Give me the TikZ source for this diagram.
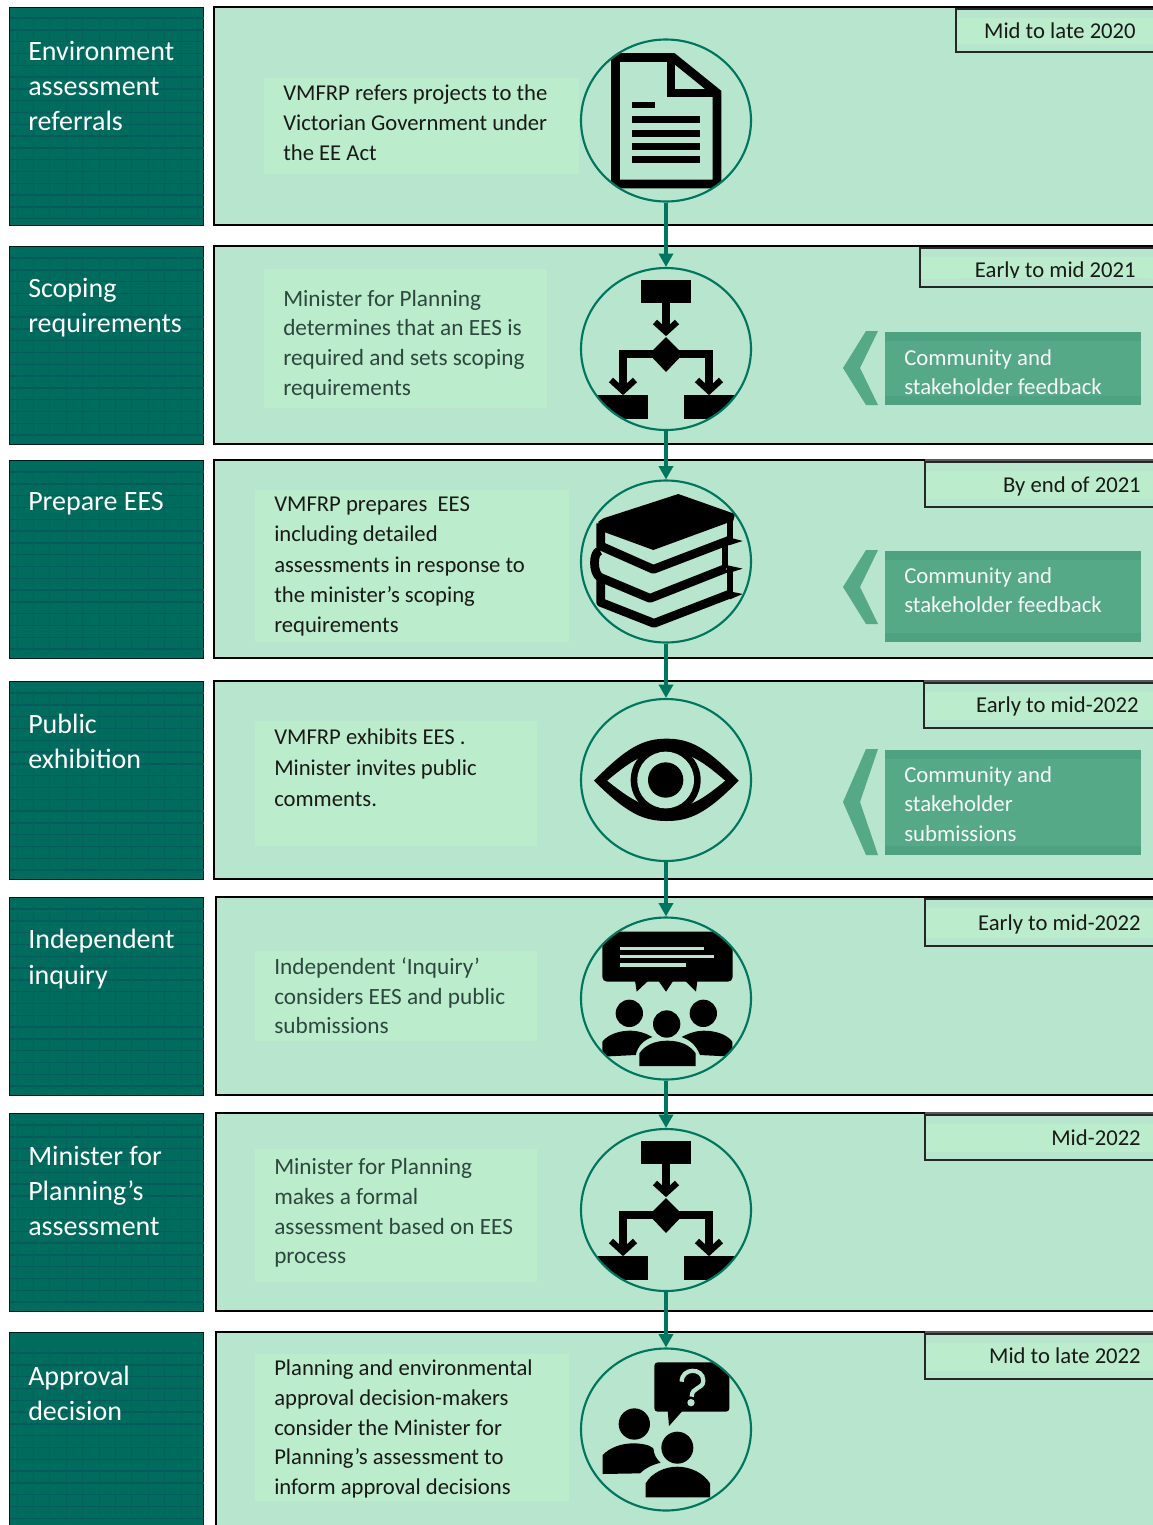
\documentclass[tikz,border=0pt]{standalone}
\usepackage{fontspec}
\setmainfont{Carlito}
\usetikzlibrary{shapes.geometric,arrows.meta}
\definecolor{rowfill}{HTML}{B8E5CD}
\definecolor{lightfill}{HTML}{BBEDCC}
\definecolor{stagefill}{HTML}{006C5D}
\definecolor{stageline}{HTML}{075A5C}
\definecolor{teal}{HTML}{00755F}
\definecolor{feedfill}{HTML}{55A986}
\definecolor{feededge}{HTML}{4FA281}
\definecolor{greytext}{HTML}{2E4640}
\tikzset{
  x=0.75pt,y=-0.75pt,
  rowbox/.style={fill=rowfill},
  rowline/.style={draw=black,line width=1.9pt},
  taglight/.style={fill=lightfill},
  tagline/.style={draw=black!85,line width=0.85pt},
  textlight/.style={fill=lightfill},
  stagebox/.style={fill=stagefill,draw=black!75!stagefill,line width=0.6pt},
  stagetext/.style={anchor=west,inner sep=0pt,align=left,text=white,font=\fontsize{21}{26.4}\selectfont},
  bodytext/.style={anchor=west,inner sep=0pt,align=left,text=black!90,font=\fontsize{17}{22.2}\selectfont},
  greybody/.style={bodytext,text=greytext,font=\fontsize{17.45}{22.2}\selectfont},
  tagtext/.style={anchor=east,inner sep=0pt,text=black!90,font=\fontsize{17}{20}\selectfont},
  feedtext/.style={anchor=west,inner sep=0pt,align=left,text=white!94!feedfill,font=\fontsize{17.1}{22.1}\selectfont},
  feedbox/.style={fill=feedfill},
  circ/.style={ellipse,draw=teal,line width=1.6pt,minimum width=127.5pt,minimum height=121.5pt,inner sep=0pt},
  flow/.style={draw=teal,line width=2.5pt,-{Triangle[length=10pt,width=10.5pt]}},
  ink/.style={fill=black},
  inkline/.style={draw=black,line width=5.4pt,line join=miter},
  bookline/.style={draw=black,line width=6.6pt,line join=round},
  paper/.style={fill=rowfill},
  zoomed/.style={x=0.25pt,y=-0.25pt},
}
% stage box with its ruled texture; #3 is the offset of the first rule
\newcommand{\StageBox}[3]{%
  \fill[stagebox] (9,#1) rectangle (203,#2);
  \begin{scope}
    \clip (10,#1) rectangle (204,#2);
    \pgfmathsetmacro{\ya}{#1+#3}\pgfmathsetmacro{\yb}{#1+#3+11.8}\pgfmathsetmacro{\yc}{#2+1}
    \foreach \yy in {\ya,\yb,...,\yc}
      \draw[stageline,line width=1.05pt] (10,\yy) -- (204,\yy);
    \pgfmathsetmacro{\yt}{#1+#3-4}\pgfmathsetmacro{\yz}{#2-6}
    \foreach \xx in {17,33.4,...,203}
      \draw[stageline!55!stagefill,line width=0.75pt] (\xx,\yt) -- (\xx,\yz);
  \end{scope}}
% row panel, open at the right; #1 left, #2 top, #3 bottom
\newcommand{\RowPanel}[3]{%
  \fill[rowbox] (#1,#2) rectangle (1153,#3);
  \draw[rowline] (1153,#2) -- (#1,#2) -- (#1,#3) -- (1153,#3);}
% date tag; #1 left, #2 top, #3 bottom
\newcommand{\DateTag}[3]{%
  \pgfmathsetmacro{\ta}{#2+9}\pgfmathsetmacro{\tb}{#3-8.5}
  \fill[taglight] (#1,\ta) rectangle (1153,\tb);
  \draw[tagline] (1153,#2) -- (#1,#2) -- (#1,#3) -- (1153,#3);}
% thin top edge above a tag; #1 left, #2 row top, #3 tag top
\newcommand{\ThinTop}[3]{%
  \fill[white] (#1,#2-3) rectangle (1153,#2-0.5);
  \fill[rowbox] (#1+0.5,#2-0.5) rectangle (1153,#3-0.5);
  \draw[draw=black!65,line width=0.9pt] (#1,#2) -- (1153,#2);}
% feedback banner; #1 box top, #2 box bottom, #3 chevron top, #4 chevron bottom
\newcommand{\Feedback}[4]{%
  \fill[fill=feededge] (885,#1) rectangle (1141,#2);
  \fill[feedbox] (885,#1+9) rectangle (1141,#2-9);
  \pgfmathsetmacro{\cm}{(#3+#4)/2}
  \fill[feedbox] (866,#3) -- (878,#3) -- (860,\cm) -- (878,#4) -- (866,#4) -- (843,\cm) -- cycle;}
% flowchart glyph about a centre
\newcommand{\FlowIcon}[2]{%
  \begin{scope}[shift={(#1,#2)}]
    \clip (0,0) ellipse [x radius=85,y radius=81];
    \fill[ink] (-25,-69) rectangle (25,-46);
    \draw[inkline] (0,-46) -- (0,-19);
    \draw[inkline,line width=4.6pt] (-11,-27) -- (0,-17) -- (11,-27);
    \fill[ink] (0,-12) -- (17,5) -- (0,23) -- (-17,5) -- cycle;
    \draw[inkline] (0,5) -- (-43,5) -- (-43,40);
    \draw[inkline] (0,5) -- (43,5) -- (43,40);
    \draw[inkline,line width=4.6pt] (-55,31) -- (-43,42) -- (-31,31);
    \draw[inkline,line width=4.6pt] (31,31) -- (43,42) -- (55,31);
    \fill[ink] (-70,46) rectangle (-18,70);
    \fill[ink] (18,46) rectangle (70,70);
  \end{scope}}
\begin{document}
\begin{tikzpicture}
\useasboundingbox (0,0) rectangle (1153,1525);
\fill[white] (0,0) rectangle (1153,1525);

% ---------- left stage boxes
\StageBox{7}{225}{11}
\StageBox{246}{444}{12}
\StageBox{460}{658}{12}
\StageBox{681}{879}{12}
\StageBox{897}{1095}{12}
\StageBox{1113}{1311}{12}
\StageBox{1332}{1525}{21}

% ---------- row panels
\RowPanel{214}{7}{225}
\RowPanel{214}{246}{444}
\RowPanel{214}{460}{658}
\RowPanel{214}{681}{879}
\RowPanel{216}{897}{1095}
\RowPanel{216}{1113}{1311}
\fill[rowbox] (216,1332) rectangle (1153,1525);
\draw[rowline] (1153,1332) -- (216,1332) -- (216,1525);

% ---------- stage titles
\node[stagetext] (s1) at (28,86) {Environment\\assessment\\referrals};
\node[stagetext] (s2) at (28,308) {Scoping\\requirements};
\node[stagetext] (s3) at (28,504) {Prepare EES};
\node[stagetext] (s4) at (28,741) {Public\\exhibition};
\node[stagetext] (s5) at (28,959) {Independent\\inquiry};
\node[stagetext] (s6) at (28,1191) {Minister for\\Planning’s\\assessment};
\node[stagetext] (s7) at (28,1393) {Approval\\decision};

% ---------- date tags
\ThinTop{925}{460}{463}
\ThinTop{924}{681}{684}
\ThinTop{925}{1113}{1116}
\ThinTop{925}{1332}{1335}
\DateTag{956}{9}{52}
\DateTag{920}{248}{287}
\DateTag{925}{462}{507}
\DateTag{924}{683}{728}
\DateTag{925}{899}{946}
\DateTag{925}{1115}{1160}
\DateTag{925}{1334}{1379}
\node[tagtext] (d1) at (1136,31) {Mid to late 2020};
\node[tagtext] (d2) at (1136,271) {Early to mid 2021};
\fill[rowbox] (960,278) rectangle (1150,286);
\node[tagtext] (d3) at (1141,486) {By end of 2021};
\node[tagtext] (d4) at (1139,706) {Early to mid-2022};
\node[tagtext] (d5) at (1141,924) {Early to mid-2022};
\node[tagtext] (d6) at (1141,1138) {Mid-2022};
\node[tagtext] (d7) at (1141,1356) {Mid to late 2022};

% ---------- description panels
\fill[textlight] (264,78) rectangle (579,174);
\fill[textlight] (264,269) rectangle (547,408);
\fill[textlight] (255,490) rectangle (569,642);
\fill[textlight] (255,721) rectangle (537,846);
\fill[textlight] (255,951) rectangle (537,1041);
\fill[textlight] (255,1149) rectangle (537,1282);
\fill[textlight] (255,1354) rectangle (569,1501);
\node[bodytext,font=\fontsize{17}{22.5}\selectfont] (t1) at (283,123) {VMFRP refers projects to the\\Victorian Government under\\the EE Act};
\node[greybody] (t2) at (283,344.5) {Minister for Planning\\determines that an EES is\\required and sets scoping\\requirements};
\node[bodytext,font=\fontsize{17}{22.7}\selectfont] (t3) at (274,566.5) {VMFRP prepares\ \ EES\\including detailed\\assessments in response to\\the minister’s scoping\\requirements};
\node[bodytext,font=\fontsize{17}{23.2}\selectfont] (t4) at (274,768) {VMFRP exhibits EES .\\Minister invites public\\comments.};
\node[greybody] (t5) at (274,996) {Independent ‘Inquiry’\\considers EES and public\\submissions};
\node[greybody] (t6) at (274,1213) {Minister for Planning\\makes a formal\\assessment based on EES\\process};
\node[bodytext] (t7) at (274,1429) {Planning and environmental\\approval decision-makers\\consider the Minister for\\Planning’s assessment to\\inform approval decisions};

% ---------- feedback banners
\Feedback{332}{405}{331}{405}
\Feedback{551}{642}{550}{624}
\Feedback{750}{855}{749}{855}
\node[feedtext] (f2) at (904,372) {Community and\\stakeholder feedback};
\node[feedtext] (f3) at (904,590) {Community and\\stakeholder feedback};
\node[feedtext] (f4) at (904,804) {Community and\\stakeholder\\submissions};

% ---------- icon 1: document
\begin{scope}
  \clip (666,120.5) ellipse [x radius=85,y radius=81];
  \draw[inkline,line width=6.6pt] (615.5,57.5) -- (673,57.5) -- (717,93) -- (717,184) -- (615.5,184) -- cycle;
  \draw[inkline,line width=6.6pt] (671,58) -- (671,93) -- (717,93);
  \fill[ink] (632,102) rectangle (655,108);
  \foreach \yy in {116,129.5,143,156}
    \fill[ink] (632,\yy) rectangle (700,\yy+7);
\end{scope}

% ---------- icon 2 and 6: flowchart
\FlowIcon{666}{349}
\FlowIcon{666}{1210}

% ---------- icon 3: books (coordinates of a 3x crop)
\begin{scope}[shift={(570,470)},zoomed]
  \clip (288,275) ellipse [x radius=255,y radius=243];
  \fill[ink] (325,72) -- (495,132) -- (490,152) -- (250,240) -- (105,187) -- (85,178) -- (85,155) -- (100,145) -- cycle;
  \draw[bookline] (92,160) -- (92,228) -- (250,298) -- (480,210);
  \fill[ink] (470,200) -- (518,213) -- (480,225) -- cycle;
  \draw[bookline,line width=5pt] (480,140) -- (480,215);
  \draw[bookline] (90,242) .. controls (68,245) and (68,310) .. (90,322) -- (240,385) -- (468,295);
  \fill[ink] (460,283) -- (518,296) -- (480,308) -- cycle;
  \draw[bookline,line width=5pt] (465,215) -- (465,295);
  \draw[bookline] (92,325) -- (92,397) -- (252,460) -- (480,372);
  \fill[ink] (470,362) -- (518,372) -- (480,388) -- cycle;
  \draw[bookline,line width=5pt] (480,298) -- (480,375);
\end{scope}

% ---------- icon 4: eye
\begin{scope}[shift={(570,470)},zoomed]
  \fill[ink] (72,932) .. controls (170,832) and (220,806) .. (290,806) .. controls (360,806) and (410,832) .. (506,932) .. controls (410,1030) and (360,1053) .. (290,1053) .. controls (220,1053) and (170,1030) .. cycle;
  \fill[paper] (112,932) .. controls (190,867) and (230,845) .. (290,845) .. controls (350,845) and (390,867) .. (465,932) .. controls (390,995) and (350,1015) .. (290,1015) .. controls (230,1015) and (190,995) .. cycle;
  \fill[ink] (287,930) circle [radius=105];
  \fill[paper] (287,930) circle [radius=85];
  \fill[ink] (287,930) circle [radius=53];
\end{scope}

% ---------- icon 5: audience and speech bubble
\begin{scope}[shift={(570,910)},zoomed]
  \clip (288,265.5) ellipse [x radius=255,y radius=243];
  \fill[ink,rounded corners=3.5pt] (97,65) rectangle (488,215);
  \fill[ink] (195,212) -- (200,245) -- (235,212) -- cycle;
  \fill[ink] (265,212) -- (288,245) -- (310,212) -- cycle;
  \fill[ink] (345,212) -- (378,245) -- (382,212) -- cycle;
  \fill[rowfill] (150,110) rectangle (402,120);
  \fill[rowfill] (150,135) rectangle (432,145);
  \fill[rowfill] (150,160) rectangle (347,170);
  \fill[ink] (178,310) circle [radius=41];
  \fill[ink] (400,310) circle [radius=41];
  \fill[ink] (290,342) circle [radius=41];
  \fill[ink] (97,440) -- (97,395) .. controls (115,372) and (150,362) .. (180,362) .. controls (205,362) and (228,370) .. (247,381) .. controls (222,390) and (205,405) .. (197,435) -- cycle;
  \fill[ink] (487,440) -- (487,395) .. controls (470,372) and (435,362) .. (400,362) .. controls (380,362) and (355,370) .. (335,381) .. controls (360,390) and (378,405) .. (390,435) -- cycle;
  \fill[ink] (208,468) -- (208,430) .. controls (225,405) and (255,392) .. (292,392) .. controls (330,392) and (360,405) .. (377,430) -- (377,468) -- cycle;
\end{scope}

% ---------- icon 7: people and question
\begin{scope}[shift={(570,1340)},zoomed]
  \clip (288,268.5) ellipse [x radius=255,y radius=243];
  \fill[ink,rounded corners=2.5pt] (253,67) rectangle (478,215);
  \fill[ink] (293,212) -- (297,258) -- (338,212) -- cycle;
  \draw[rowfill,line width=3.2pt] (335,125) .. controls (335,82) and (400,82) .. (400,122) .. controls (400,148) and (365,140) .. (365,170);
  \fill[rowfill] (363,188) circle [radius=11];
  \fill[ink] (193,252) circle [radius=47];
  \fill[ink] (98,402) -- (98,345) .. controls (120,322) and (155,310) .. (190,310) .. controls (215,310) and (240,315) .. (250,325) .. controls (252,345) and (260,358) .. (272,368) .. controls (245,375) and (225,385) .. (210,400) -- cycle;
  \fill[ink] (322,323) circle [radius=48];
  \fill[ink] (227,472) -- (227,430) .. controls (245,398) and (285,380) .. (322,380) .. controls (360,380) and (400,398) .. (420,430) -- (420,472) -- cycle;
\end{scope}

% ---------- circles and connectors
\node[circ] (c1) at (666,120.5) {};
\node[circ] (c2) at (666,349) {};
\node[circ] (c3) at (666,561.5) {};
\node[circ] (c4) at (666,780) {};
\node[circ] (c5) at (666,998.5) {};
\node[circ] (c6) at (666,1210) {};
\node[circ] (c7) at (666,1429.5) {};
\draw[flow] (c1.south) -- (c2.north);
\draw[flow] (c2.south) -- (c3.north);
\draw[flow] (c3.south) -- (c4.north);
\draw[flow] (c4.south) -- (c5.north);
\draw[flow] (c5.south) -- (c6.north);
\draw[flow] (c6.south) -- (c7.north);
\end{tikzpicture}
\end{document}
